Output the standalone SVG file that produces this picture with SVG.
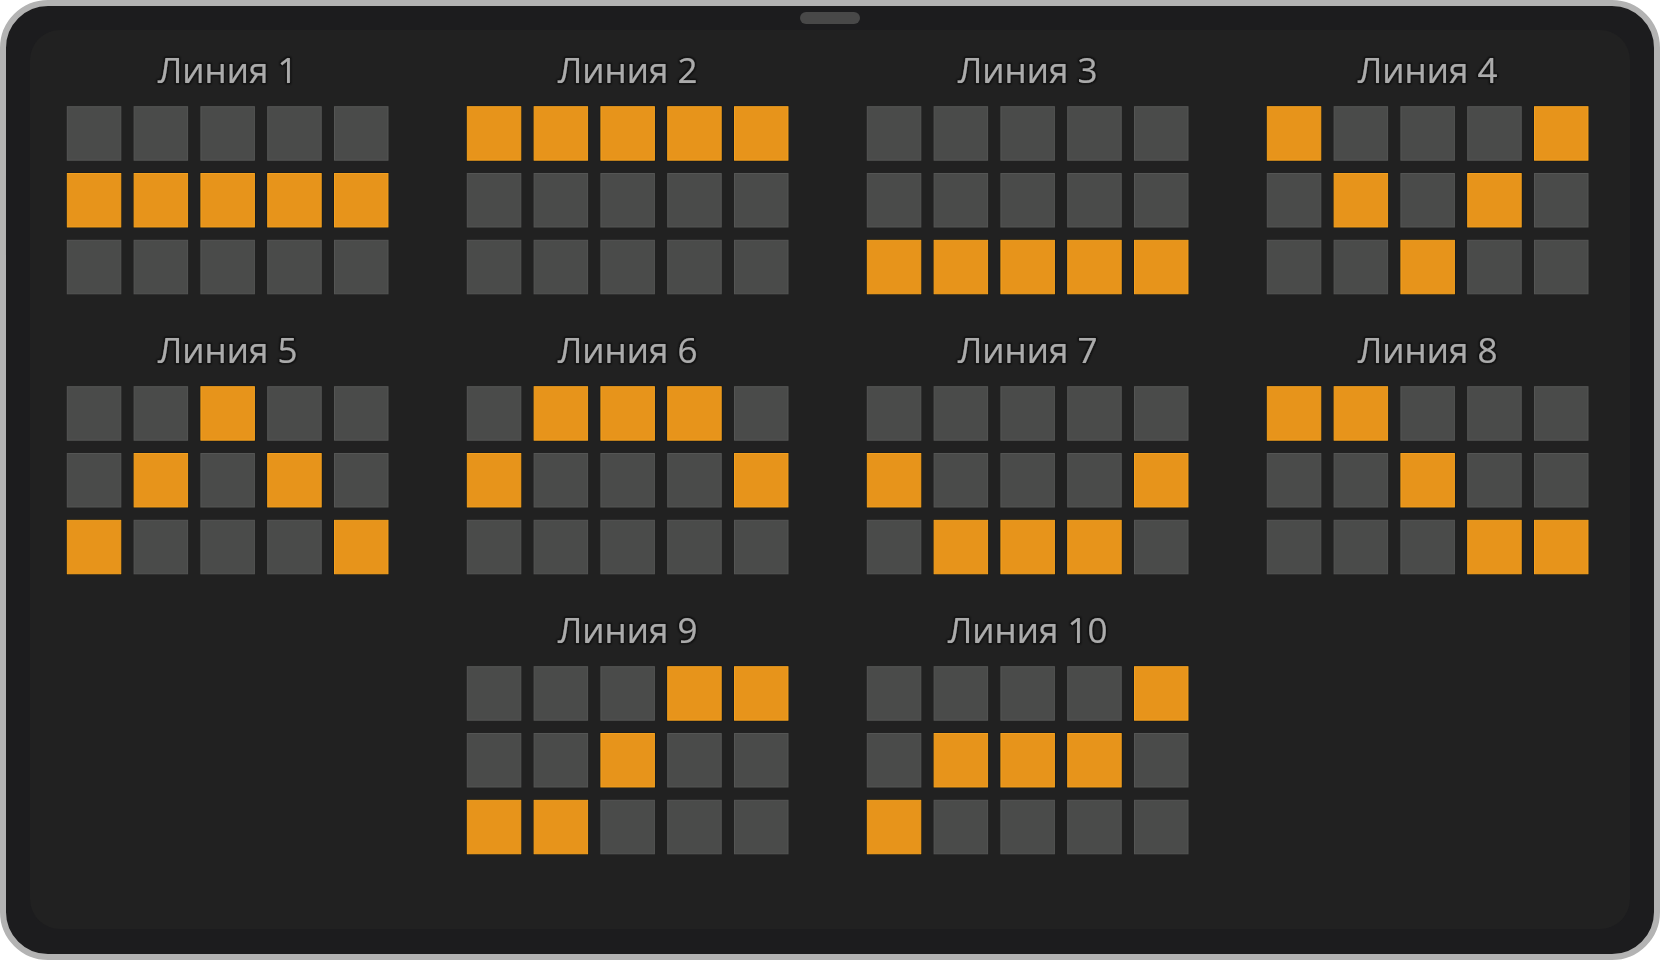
<svg xmlns="http://www.w3.org/2000/svg" width="1660" height="960" viewBox="0 0 1660 960">
<style>
.off{fill:#4a4b4a;stroke:#555655;stroke-width:1}
.on{fill:#e7941b;stroke:#f4a21f;stroke-width:1}
.sh{fill:#111418}
.t{font-family:"Open Sans","DejaVu Sans",sans-serif;font-size:35px;fill:#ababab;text-anchor:middle;filter:url(#glow)}
</style>
<defs>
<filter id="glow" x="-10%" y="-30%" width="120%" height="160%">
<feMorphology in="SourceAlpha" operator="dilate" radius="1.2" result="d"/>
<feGaussianBlur in="d" stdDeviation="1" result="b"/>
<feFlood flood-color="#0c0c0c" flood-opacity="0.9"/>
<feComposite in2="b" operator="in" result="s"/>
<feMerge><feMergeNode in="s"/><feMergeNode in="SourceGraphic"/></feMerge>
</filter>
</defs>
<rect x="0" y="0" width="1660" height="960" fill="#ffffff"/>
<rect x="3" y="3" width="1654" height="954" rx="45" fill="#1c1c1e" stroke="#b3b3b3" stroke-width="6"/>
<rect x="30" y="30" width="1600" height="899" rx="30" fill="#212121"/>
<rect x="800" y="12" width="60" height="12" rx="6" fill="#484848"/>

<g id="line1" transform="translate(67.3,0)">
<text class="t" x="160.3" y="83.3">Линия 1</text>
<g transform="translate(0,106.7)">
<rect class="off" x="0" y="0" width="53.5" height="53.5"/><rect class="off" x="66.8" y="0" width="53.5" height="53.5"/><rect class="off" x="133.6" y="0" width="53.5" height="53.5"/><rect class="off" x="200.4" y="0" width="53.5" height="53.5"/><rect class="off" x="267.2" y="0" width="53.5" height="53.5"/>
<rect class="sh" x="-1" y="65.8" width="55.5" height="55.5"/><rect class="on" x="0" y="66.8" width="53.5" height="53.5"/><rect class="sh" x="65.8" y="65.8" width="55.5" height="55.5"/><rect class="on" x="66.8" y="66.8" width="53.5" height="53.5"/><rect class="sh" x="132.6" y="65.8" width="55.5" height="55.5"/><rect class="on" x="133.6" y="66.8" width="53.5" height="53.5"/><rect class="sh" x="199.4" y="65.8" width="55.5" height="55.5"/><rect class="on" x="200.4" y="66.8" width="53.5" height="53.5"/><rect class="sh" x="266.2" y="65.8" width="55.5" height="55.5"/><rect class="on" x="267.2" y="66.8" width="53.5" height="53.5"/>
<rect class="off" x="0" y="133.6" width="53.5" height="53.5"/><rect class="off" x="66.8" y="133.6" width="53.5" height="53.5"/><rect class="off" x="133.6" y="133.6" width="53.5" height="53.5"/><rect class="off" x="200.4" y="133.6" width="53.5" height="53.5"/><rect class="off" x="267.2" y="133.6" width="53.5" height="53.5"/>
</g>
</g>

<g id="line2" transform="translate(467.3,0)">
<text class="t" x="160.3" y="83.3">Линия 2</text>
<g transform="translate(0,106.7)">
<rect class="sh" x="-1" y="-1" width="55.5" height="55.5"/><rect class="on" x="0" y="0" width="53.5" height="53.5"/><rect class="sh" x="65.8" y="-1" width="55.5" height="55.5"/><rect class="on" x="66.8" y="0" width="53.5" height="53.5"/><rect class="sh" x="132.6" y="-1" width="55.5" height="55.5"/><rect class="on" x="133.6" y="0" width="53.5" height="53.5"/><rect class="sh" x="199.4" y="-1" width="55.5" height="55.5"/><rect class="on" x="200.4" y="0" width="53.5" height="53.5"/><rect class="sh" x="266.2" y="-1" width="55.5" height="55.5"/><rect class="on" x="267.2" y="0" width="53.5" height="53.5"/>
<rect class="off" x="0" y="66.8" width="53.5" height="53.5"/><rect class="off" x="66.8" y="66.8" width="53.5" height="53.5"/><rect class="off" x="133.6" y="66.8" width="53.5" height="53.5"/><rect class="off" x="200.4" y="66.8" width="53.5" height="53.5"/><rect class="off" x="267.2" y="66.8" width="53.5" height="53.5"/>
<rect class="off" x="0" y="133.6" width="53.5" height="53.5"/><rect class="off" x="66.8" y="133.6" width="53.5" height="53.5"/><rect class="off" x="133.6" y="133.6" width="53.5" height="53.5"/><rect class="off" x="200.4" y="133.6" width="53.5" height="53.5"/><rect class="off" x="267.2" y="133.6" width="53.5" height="53.5"/>
</g>
</g>

<g id="line3" transform="translate(867.3,0)">
<text class="t" x="160.3" y="83.3">Линия 3</text>
<g transform="translate(0,106.7)">
<rect class="off" x="0" y="0" width="53.5" height="53.5"/><rect class="off" x="66.8" y="0" width="53.5" height="53.5"/><rect class="off" x="133.6" y="0" width="53.5" height="53.5"/><rect class="off" x="200.4" y="0" width="53.5" height="53.5"/><rect class="off" x="267.2" y="0" width="53.5" height="53.5"/>
<rect class="off" x="0" y="66.8" width="53.5" height="53.5"/><rect class="off" x="66.8" y="66.8" width="53.5" height="53.5"/><rect class="off" x="133.6" y="66.8" width="53.5" height="53.5"/><rect class="off" x="200.4" y="66.8" width="53.5" height="53.5"/><rect class="off" x="267.2" y="66.8" width="53.5" height="53.5"/>
<rect class="sh" x="-1" y="132.6" width="55.5" height="55.5"/><rect class="on" x="0" y="133.6" width="53.5" height="53.5"/><rect class="sh" x="65.8" y="132.6" width="55.5" height="55.5"/><rect class="on" x="66.8" y="133.6" width="53.5" height="53.5"/><rect class="sh" x="132.6" y="132.6" width="55.5" height="55.5"/><rect class="on" x="133.6" y="133.6" width="53.5" height="53.5"/><rect class="sh" x="199.4" y="132.6" width="55.5" height="55.5"/><rect class="on" x="200.4" y="133.6" width="53.5" height="53.5"/><rect class="sh" x="266.2" y="132.6" width="55.5" height="55.5"/><rect class="on" x="267.2" y="133.6" width="53.5" height="53.5"/>
</g>
</g>

<g id="line4" transform="translate(1267.3,0)">
<text class="t" x="160.3" y="83.3">Линия 4</text>
<g transform="translate(0,106.7)">
<rect class="sh" x="-1" y="-1" width="55.5" height="55.5"/><rect class="on" x="0" y="0" width="53.5" height="53.5"/><rect class="off" x="66.8" y="0" width="53.5" height="53.5"/><rect class="off" x="133.6" y="0" width="53.5" height="53.5"/><rect class="off" x="200.4" y="0" width="53.5" height="53.5"/><rect class="sh" x="266.2" y="-1" width="55.5" height="55.5"/><rect class="on" x="267.2" y="0" width="53.5" height="53.5"/>
<rect class="off" x="0" y="66.8" width="53.5" height="53.5"/><rect class="sh" x="65.8" y="65.8" width="55.5" height="55.5"/><rect class="on" x="66.8" y="66.8" width="53.5" height="53.5"/><rect class="off" x="133.6" y="66.8" width="53.5" height="53.5"/><rect class="sh" x="199.4" y="65.8" width="55.5" height="55.5"/><rect class="on" x="200.4" y="66.8" width="53.5" height="53.5"/><rect class="off" x="267.2" y="66.8" width="53.5" height="53.5"/>
<rect class="off" x="0" y="133.6" width="53.5" height="53.5"/><rect class="off" x="66.8" y="133.6" width="53.5" height="53.5"/><rect class="sh" x="132.6" y="132.6" width="55.5" height="55.5"/><rect class="on" x="133.6" y="133.6" width="53.5" height="53.5"/><rect class="off" x="200.4" y="133.6" width="53.5" height="53.5"/><rect class="off" x="267.2" y="133.6" width="53.5" height="53.5"/>
</g>
</g>

<g id="line5" transform="translate(67.3,280)">
<text class="t" x="160.3" y="83.3">Линия 5</text>
<g transform="translate(0,106.7)">
<rect class="off" x="0" y="0" width="53.5" height="53.5"/><rect class="off" x="66.8" y="0" width="53.5" height="53.5"/><rect class="sh" x="132.6" y="-1" width="55.5" height="55.5"/><rect class="on" x="133.6" y="0" width="53.5" height="53.5"/><rect class="off" x="200.4" y="0" width="53.5" height="53.5"/><rect class="off" x="267.2" y="0" width="53.5" height="53.5"/>
<rect class="off" x="0" y="66.8" width="53.5" height="53.5"/><rect class="sh" x="65.8" y="65.8" width="55.5" height="55.5"/><rect class="on" x="66.8" y="66.8" width="53.5" height="53.5"/><rect class="off" x="133.6" y="66.8" width="53.5" height="53.5"/><rect class="sh" x="199.4" y="65.8" width="55.5" height="55.5"/><rect class="on" x="200.4" y="66.8" width="53.5" height="53.5"/><rect class="off" x="267.2" y="66.8" width="53.5" height="53.5"/>
<rect class="sh" x="-1" y="132.6" width="55.5" height="55.5"/><rect class="on" x="0" y="133.6" width="53.5" height="53.5"/><rect class="off" x="66.8" y="133.6" width="53.5" height="53.5"/><rect class="off" x="133.6" y="133.6" width="53.5" height="53.5"/><rect class="off" x="200.4" y="133.6" width="53.5" height="53.5"/><rect class="sh" x="266.2" y="132.6" width="55.5" height="55.5"/><rect class="on" x="267.2" y="133.6" width="53.5" height="53.5"/>
</g>
</g>

<g id="line6" transform="translate(467.3,280)">
<text class="t" x="160.3" y="83.3">Линия 6</text>
<g transform="translate(0,106.7)">
<rect class="off" x="0" y="0" width="53.5" height="53.5"/><rect class="sh" x="65.8" y="-1" width="55.5" height="55.5"/><rect class="on" x="66.8" y="0" width="53.5" height="53.5"/><rect class="sh" x="132.6" y="-1" width="55.5" height="55.5"/><rect class="on" x="133.6" y="0" width="53.5" height="53.5"/><rect class="sh" x="199.4" y="-1" width="55.5" height="55.5"/><rect class="on" x="200.4" y="0" width="53.5" height="53.5"/><rect class="off" x="267.2" y="0" width="53.5" height="53.5"/>
<rect class="sh" x="-1" y="65.8" width="55.5" height="55.5"/><rect class="on" x="0" y="66.8" width="53.5" height="53.5"/><rect class="off" x="66.8" y="66.8" width="53.5" height="53.5"/><rect class="off" x="133.6" y="66.8" width="53.5" height="53.5"/><rect class="off" x="200.4" y="66.8" width="53.5" height="53.5"/><rect class="sh" x="266.2" y="65.8" width="55.5" height="55.5"/><rect class="on" x="267.2" y="66.8" width="53.5" height="53.5"/>
<rect class="off" x="0" y="133.6" width="53.5" height="53.5"/><rect class="off" x="66.8" y="133.6" width="53.5" height="53.5"/><rect class="off" x="133.6" y="133.6" width="53.5" height="53.5"/><rect class="off" x="200.4" y="133.6" width="53.5" height="53.5"/><rect class="off" x="267.2" y="133.6" width="53.5" height="53.5"/>
</g>
</g>

<g id="line7" transform="translate(867.3,280)">
<text class="t" x="160.3" y="83.3">Линия 7</text>
<g transform="translate(0,106.7)">
<rect class="off" x="0" y="0" width="53.5" height="53.5"/><rect class="off" x="66.8" y="0" width="53.5" height="53.5"/><rect class="off" x="133.6" y="0" width="53.5" height="53.5"/><rect class="off" x="200.4" y="0" width="53.5" height="53.5"/><rect class="off" x="267.2" y="0" width="53.5" height="53.5"/>
<rect class="sh" x="-1" y="65.8" width="55.5" height="55.5"/><rect class="on" x="0" y="66.8" width="53.5" height="53.5"/><rect class="off" x="66.8" y="66.8" width="53.5" height="53.5"/><rect class="off" x="133.6" y="66.8" width="53.5" height="53.5"/><rect class="off" x="200.4" y="66.8" width="53.5" height="53.5"/><rect class="sh" x="266.2" y="65.8" width="55.5" height="55.5"/><rect class="on" x="267.2" y="66.8" width="53.5" height="53.5"/>
<rect class="off" x="0" y="133.6" width="53.5" height="53.5"/><rect class="sh" x="65.8" y="132.6" width="55.5" height="55.5"/><rect class="on" x="66.8" y="133.6" width="53.5" height="53.5"/><rect class="sh" x="132.6" y="132.6" width="55.5" height="55.5"/><rect class="on" x="133.6" y="133.6" width="53.5" height="53.5"/><rect class="sh" x="199.4" y="132.6" width="55.5" height="55.5"/><rect class="on" x="200.4" y="133.6" width="53.5" height="53.5"/><rect class="off" x="267.2" y="133.6" width="53.5" height="53.5"/>
</g>
</g>

<g id="line8" transform="translate(1267.3,280)">
<text class="t" x="160.3" y="83.3">Линия 8</text>
<g transform="translate(0,106.7)">
<rect class="sh" x="-1" y="-1" width="55.5" height="55.5"/><rect class="on" x="0" y="0" width="53.5" height="53.5"/><rect class="sh" x="65.8" y="-1" width="55.5" height="55.5"/><rect class="on" x="66.8" y="0" width="53.5" height="53.5"/><rect class="off" x="133.6" y="0" width="53.5" height="53.5"/><rect class="off" x="200.4" y="0" width="53.5" height="53.5"/><rect class="off" x="267.2" y="0" width="53.5" height="53.5"/>
<rect class="off" x="0" y="66.8" width="53.5" height="53.5"/><rect class="off" x="66.8" y="66.8" width="53.5" height="53.5"/><rect class="sh" x="132.6" y="65.8" width="55.5" height="55.5"/><rect class="on" x="133.6" y="66.8" width="53.5" height="53.5"/><rect class="off" x="200.4" y="66.8" width="53.5" height="53.5"/><rect class="off" x="267.2" y="66.8" width="53.5" height="53.5"/>
<rect class="off" x="0" y="133.6" width="53.5" height="53.5"/><rect class="off" x="66.8" y="133.6" width="53.5" height="53.5"/><rect class="off" x="133.6" y="133.6" width="53.5" height="53.5"/><rect class="sh" x="199.4" y="132.6" width="55.5" height="55.5"/><rect class="on" x="200.4" y="133.6" width="53.5" height="53.5"/><rect class="sh" x="266.2" y="132.6" width="55.5" height="55.5"/><rect class="on" x="267.2" y="133.6" width="53.5" height="53.5"/>
</g>
</g>

<g id="line9" transform="translate(467.3,560)">
<text class="t" x="160.3" y="83.3">Линия 9</text>
<g transform="translate(0,106.7)">
<rect class="off" x="0" y="0" width="53.5" height="53.5"/><rect class="off" x="66.8" y="0" width="53.5" height="53.5"/><rect class="off" x="133.6" y="0" width="53.5" height="53.5"/><rect class="sh" x="199.4" y="-1" width="55.5" height="55.5"/><rect class="on" x="200.4" y="0" width="53.5" height="53.5"/><rect class="sh" x="266.2" y="-1" width="55.5" height="55.5"/><rect class="on" x="267.2" y="0" width="53.5" height="53.5"/>
<rect class="off" x="0" y="66.8" width="53.5" height="53.5"/><rect class="off" x="66.8" y="66.8" width="53.5" height="53.5"/><rect class="sh" x="132.6" y="65.8" width="55.5" height="55.5"/><rect class="on" x="133.6" y="66.8" width="53.5" height="53.5"/><rect class="off" x="200.4" y="66.8" width="53.5" height="53.5"/><rect class="off" x="267.2" y="66.8" width="53.5" height="53.5"/>
<rect class="sh" x="-1" y="132.6" width="55.5" height="55.5"/><rect class="on" x="0" y="133.6" width="53.5" height="53.5"/><rect class="sh" x="65.8" y="132.6" width="55.5" height="55.5"/><rect class="on" x="66.8" y="133.6" width="53.5" height="53.5"/><rect class="off" x="133.6" y="133.6" width="53.5" height="53.5"/><rect class="off" x="200.4" y="133.6" width="53.5" height="53.5"/><rect class="off" x="267.2" y="133.6" width="53.5" height="53.5"/>
</g>
</g>

<g id="line10" transform="translate(867.3,560)">
<text class="t" x="160.3" y="83.3">Линия 10</text>
<g transform="translate(0,106.7)">
<rect class="off" x="0" y="0" width="53.5" height="53.5"/><rect class="off" x="66.8" y="0" width="53.5" height="53.5"/><rect class="off" x="133.6" y="0" width="53.5" height="53.5"/><rect class="off" x="200.4" y="0" width="53.5" height="53.5"/><rect class="sh" x="266.2" y="-1" width="55.5" height="55.5"/><rect class="on" x="267.2" y="0" width="53.5" height="53.5"/>
<rect class="off" x="0" y="66.8" width="53.5" height="53.5"/><rect class="sh" x="65.8" y="65.8" width="55.5" height="55.5"/><rect class="on" x="66.8" y="66.8" width="53.5" height="53.5"/><rect class="sh" x="132.6" y="65.8" width="55.5" height="55.5"/><rect class="on" x="133.6" y="66.8" width="53.5" height="53.5"/><rect class="sh" x="199.4" y="65.8" width="55.5" height="55.5"/><rect class="on" x="200.4" y="66.8" width="53.5" height="53.5"/><rect class="off" x="267.2" y="66.8" width="53.5" height="53.5"/>
<rect class="sh" x="-1" y="132.6" width="55.5" height="55.5"/><rect class="on" x="0" y="133.6" width="53.5" height="53.5"/><rect class="off" x="66.8" y="133.6" width="53.5" height="53.5"/><rect class="off" x="133.6" y="133.6" width="53.5" height="53.5"/><rect class="off" x="200.4" y="133.6" width="53.5" height="53.5"/><rect class="off" x="267.2" y="133.6" width="53.5" height="53.5"/>
</g>
</g>

<g id="connectors"></g>
</svg>
